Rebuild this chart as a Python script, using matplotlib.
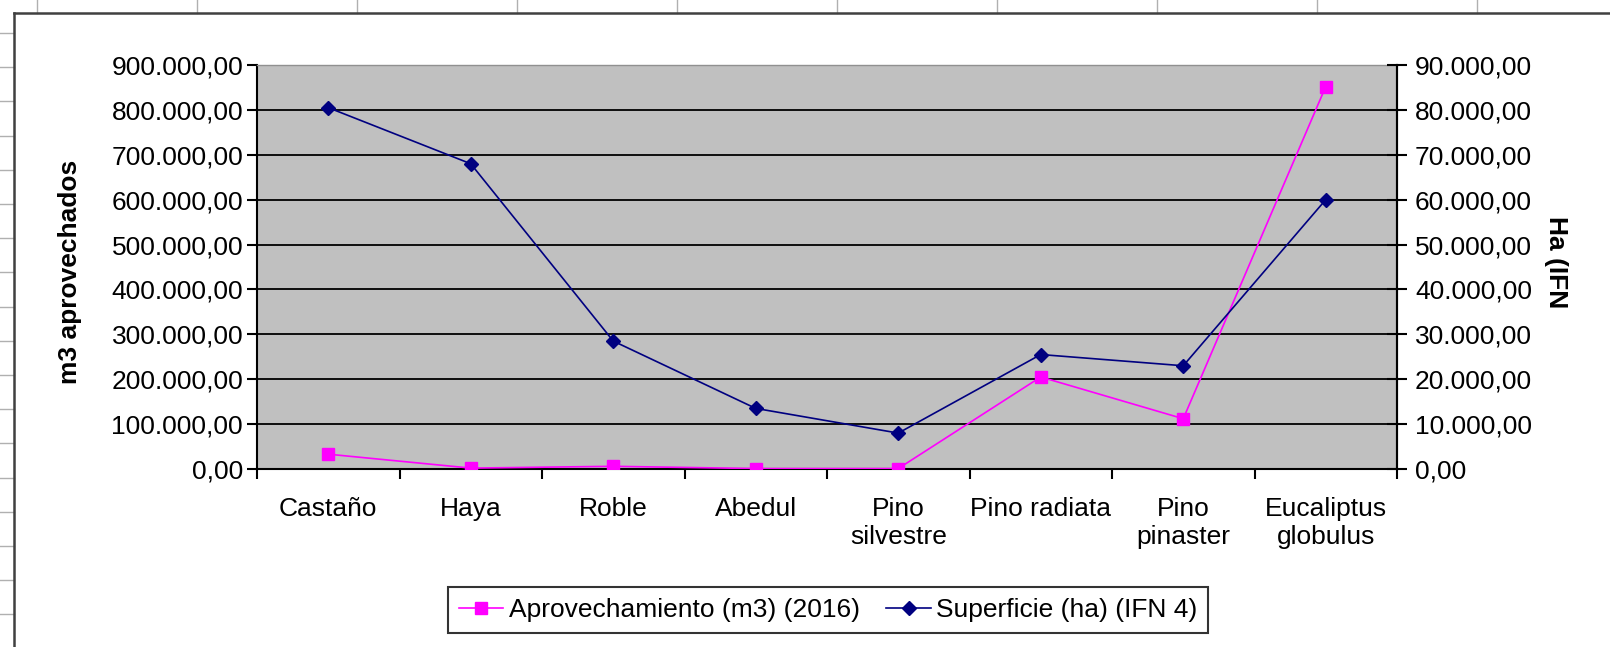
import numpy as np
import matplotlib.pyplot as plt
from matplotlib.lines import Line2D
from matplotlib.ticker import FuncFormatter, FixedLocator

plt.rcParams['font.family'] = ['Liberation Sans', 'DejaVu Sans']

# Data
species = ["Castaño", "Haya", "Roble", "Abedul", "Pino\nsilvestre",
           "Pino radiata", "Pino\npinaster", "Eucaliptus\nglobulus"]
aprovechamiento_m3 = [33000, 2000, 6000, 1000, 1000, 205000, 112000, 852000]
superficie_ha = [80500, 68000, 28500, 13500, 8000, 25500, 23000, 60000]

left_ticks = np.arange(0, 900001, 100000)
right_ticks = np.arange(0, 90001, 10000)

MAGENTA = "#FF00FF"
NAVY = "#000080"
FS = 19


def euro(v, pos=None):
    s = f"{v:,.2f}"
    return s.replace(",", "X").replace(".", ",").replace("X", ".")


W, H = 1610, 647
fig = plt.figure(figsize=(W / 100, H / 100), dpi=100)

# spreadsheet background bits (row lines on the left, column marks on top)
for y in np.arange(33, H, 34.2):
    fig.add_artist(Line2D([0, 14 / W], [1 - y / H, 1 - y / H], color="#b0b0b0", lw=1))
for x in np.arange(37, W, 160):
    fig.add_artist(Line2D([x / W, x / W], [1 - 13 / H, 1], color="#b0b0b0", lw=1))
fig.add_artist(Line2D([14 / W, 14 / W], [0, 1 - 13 / H], color="#404040", lw=1.8))
fig.add_artist(Line2D([14 / W, 1], [1 - 13 / H, 1 - 13 / H], color="#404040", lw=1.8))

ax = fig.add_axes([257 / W, 1 - 469 / H, (1397 - 257) / W, (469 - 65) / H])
ax.set_facecolor("#C0C0C0")
x = np.arange(len(species))

ax.set_xlim(-0.5, len(species) - 0.5)
ax.set_ylim(0, 900000)
ax.yaxis.set_major_locator(FixedLocator(left_ticks))
ax.yaxis.set_major_formatter(FuncFormatter(euro))
ax.grid(axis="y", color="black", lw=1.3)
ax.set_axisbelow(True)

ax.set_xticks(x)
ax.set_xticklabels(species, fontsize=FS, linespacing=1.2)
ax.set_xticks(np.arange(-0.5, len(species)), minor=True)
ax.tick_params(axis="x", which="major", length=0, pad=20)
ax.tick_params(axis="x", which="minor", length=7, width=1.5, direction="out")
ax.tick_params(axis="y", labelsize=FS, length=7, width=1.5, direction="out", pad=3)

for side in ["left", "bottom", "right"]:
    ax.spines[side].set_color("black")
    ax.spines[side].set_linewidth(1.5)
ax.spines["top"].set_color("#909090")
ax.spines["top"].set_linewidth(1)

ax2 = ax.twinx()
ax2.set_ylim(0, 90000)
ax2.yaxis.set_major_locator(FixedLocator(right_ticks))
ax2.yaxis.set_major_formatter(FuncFormatter(euro))
ax2.tick_params(axis="y", labelsize=FS, length=14, width=1.5, direction="inout", pad=6)
for s in ax2.spines.values():
    s.set_visible(False)
ax2.spines["right"].set_visible(True)
ax2.spines["right"].set_linewidth(1.5)

l1, = ax.plot(x, aprovechamiento_m3, color=MAGENTA, lw=1.2, marker="s", ms=8,
              label="Aprovechamiento (m3) (2016)", zorder=3)
l2, = ax2.plot(x, superficie_ha, color=NAVY, lw=1.2, marker="D", ms=7,
               label="Superficie (ha) (IFN 4)", zorder=3)

# axis titles
fig.text(70 / W, 1 - 272 / H, "m3 aprovechados", fontsize=FS, fontweight="bold",
         rotation=90, ha="center", va="center")
fig.text(1556 / W, 1 - 262 / H, "Ha (IFN", fontsize=FS, fontweight="bold",
         rotation=270, ha="center", va="center")

leg = fig.legend(handles=[l1, l2], loc="center", bbox_to_anchor=(828 / W, 1 - 610 / H),
                 ncol=2, fontsize=FS, frameon=True, fancybox=False,
                 handlelength=1.7, handletextpad=0.2, columnspacing=1.0,
                 borderpad=0.4, edgecolor="black")
leg.get_frame().set_linewidth(1.5)

fig.savefig("out.png", dpi=100)
